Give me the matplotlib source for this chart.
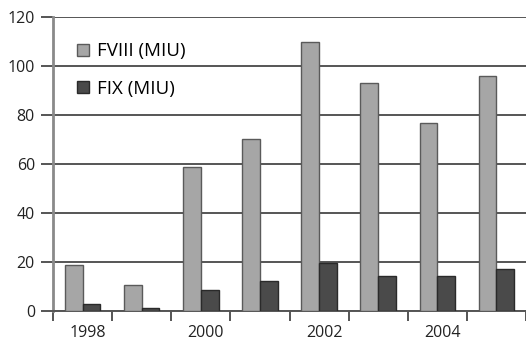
import numpy as np
import matplotlib
matplotlib.use("Agg")
import matplotlib.pyplot as plt
from matplotlib.lines import Line2D
from matplotlib.transforms import ScaledTranslation

plt.rcParams['font.family'] = ['Open Sans', 'DejaVu Sans']

years = ['1998', '1999', '2000', '2001', '2002', '2003', '2004', '2005']
fviii = [18.6, 10.5, 58.7, 70.4, 109.8, 93.2, 76.8, 96.0]
fix = [3.0, 1.2, 8.6, 12.4, 19.8, 14.1, 14.1, 17.3]
yticks = [0, 20, 40, 60, 80, 100, 120]

light = '#a6a6a6'
dark = '#4a4a4a'
grid_c = '#555555'

fig = plt.figure(figsize=(5.26, 3.43), dpi=100)
ax = fig.add_axes([0.1008, 0.0933, 0.8992, 0.856])

x = np.arange(len(years))
w = 0.3
ax.bar(x - w / 2, fviii, w, color=light, edgecolor='#5a5a5a', linewidth=1.0, zorder=3)
ax.bar(x + w / 2, fix, w, color=dark, edgecolor='#2a2a2a', linewidth=1.0, zorder=3)

ax.set_xlim(-0.5, len(years) - 0.5)
ax.set_ylim(0, 120)
ax.set_yticks(yticks)
ax.yaxis.grid(True, color=grid_c, linewidth=1.4, zorder=1)
ax.tick_params(axis='y', length=9, width=1.4, color=grid_c, pad=4, labelsize=11.5, labelcolor='#222222')

# category boundary ticks, labels on every other year
ax.set_xticks(np.arange(len(years) + 1) - 0.5, minor=False)
ax.set_xticklabels([])
ax.set_xticks(x[::2], minor=True)
ax.set_xticklabels(years[::2], minor=True)
ax.tick_params(axis='x', which='major', length=7, width=1.4, color=grid_c, direction='out')
ax.tick_params(axis='x', which='minor', length=0, pad=10, labelsize=11.5, labelcolor='#222222')
for lab in ax.get_xticklabels(minor=True):
    lab.set_transform(lab.get_transform() + ScaledTranslation(5 / 100, 0, fig.dpi_scale_trans))

for s in ['top', 'right']:
    ax.spines[s].set_visible(False)
ax.spines['left'].set_color('#8a8a8a')
ax.spines['left'].set_linewidth(2)
ax.spines['bottom'].set_color(grid_c)
ax.spines['bottom'].set_linewidth(1.4)

handles = [
    Line2D([], [], marker='s', linestyle='none', markersize=8.5, markerfacecolor=light, markeredgecolor='#5a5a5a'),
    Line2D([], [], marker='s', linestyle='none', markersize=8.5, markerfacecolor=dark, markeredgecolor='#2a2a2a'),
]
leg = ax.legend(handles, ['FVIII (MIU)', 'FIX (MIU)'], loc='upper left', bbox_to_anchor=(0.0436, 0.915),
                frameon=False, fontsize=13.5, labelspacing=1.05, handletextpad=0.25, handlelength=1.0,
                borderpad=0, borderaxespad=0)
leg.set_zorder(5)

fig.savefig('out.png', dpi=100)
